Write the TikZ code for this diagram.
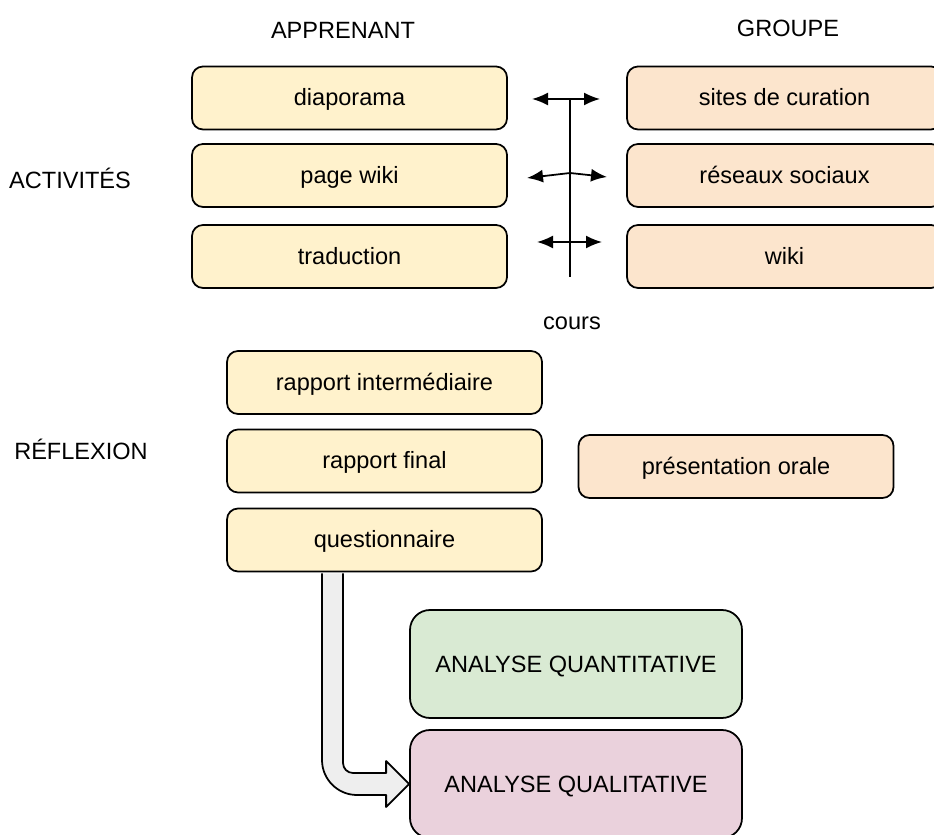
\documentclass[tikz,border=0pt]{standalone}
\usepackage{fontspec}
\setmainfont{Liberation Sans}
\usepackage{tikz}
\usetikzlibrary{
	shapes,
	calc,
	arrows.meta}

\definecolor{jaune}{HTML}{FFF2CC}
\definecolor{peche}{HTML}{FCE5CD}
\definecolor{vert}{HTML}{D9EAD3}
\definecolor{rose}{HTML}{EAD1DC}
\definecolor{gris}{HTML}{EEEEEE}

\begin{document}
\begin{tikzpicture}[scale=1,every node/.style={font=\fontsize{13.4}{16}\selectfont}]
		\tikzstyle{boite}=[rectangle,draw,line width=1pt,rounded corners=0.22cm,
							minimum width=6.3cm,minimum height=1.26cm,
							text height=0.34cm,text depth=0.02cm]
		\tikzstyle{analyse}=[rectangle,draw,line width=1pt,rounded corners=0.4cm,
							minimum width=6.64cm,minimum height=2.16cm,
							text height=0.34cm,text depth=0.02cm]
		\tikzstyle{fleche}=[line width=1pt,-{Latex[length=0.32cm,width=0.26cm]}]

		\useasboundingbox (0,0) rectangle (18.68,16.68);
		\clip (0,0) rectangle (18.68,16.68);

		% titres
		\node (apprenant) at (6.86,16.08) {APPRENANT};
		\node (groupe) at (15.76,16.12) {GROUPE};
		\node (activites) at (1.4,13.12) {ACTIVITÉS};
		\node (reflexion) at (1.62,7.7) {RÉFLEXION};

		% activites
		\foreach \name/\y/\txt in {diapo/14.72/diaporama, pagewiki/13.17/page wiki, trad/11.55/traduction}
			\node[boite,fill=jaune] (\name) at (6.99,\y) {\txt};
		\foreach \name/\y/\txt in {curation/14.72/sites de curation, reseaux/13.17/réseaux sociaux, wiki/11.55/wiki}
			\node[boite,fill=peche] (\name) at (15.69,\y) {\txt};

		% cours
		\coordinate (ctop) at (11.4,14.68);
		\coordinate (cbot) at (11.4,11.14);
		\draw [line width=1pt] (ctop) -- (cbot);
		\node (cours) at (11.44,10.22) {cours};

		\coordinate (g1) at (10.64,14.70);
		\coordinate (d1) at (12.0,14.70);
		\coordinate (m2) at (11.4,13.22);
		\coordinate (g2) at (10.54,13.12);
		\coordinate (d2) at (12.14,13.14);
		\coordinate (m3) at (11.4,11.84);
		\coordinate (g3) at (10.74,11.84);
		\coordinate (d3) at (12.04,11.84);

		\draw [fleche] ($(ctop)+(0,0.02)$) -- (g1);
		\draw [fleche] ($(ctop)+(0,0.02)$) -- (d1);
		\foreach \i in {2,3} {
			\draw [fleche] (m\i) -- (g\i);
			\draw [fleche] (m\i) -- (d\i);
		}

		% reflexion
		\foreach \name/\y/\txt in {interm/9.03/rapport intermédiaire, final/7.46/rapport final, quest/5.88/questionnaire}
			\node[boite,fill=jaune] (\name) at (7.69,\y) {\txt};
		\node[boite,fill=peche] (orale) at (14.72,7.35) {présentation orale};

		% analyses
		\node[analyse,fill=vert] (quanti) at (11.52,3.4) {ANALYSE QUANTITATIVE};
		\node[analyse,fill=rose] (quali) at (11.52,1.0) {ANALYSE QUALITATIVE};

		% grosse fleche
		\coordinate (qa) at ($(quest.south)+(-1.25,-0.02)$);
		\filldraw [fill=gris,line width=1pt,line join=round]
			(qa) -- ($(quali.west -| qa)+(0,0.48)$)
			arc [start angle=180,end angle=270,radius=0.7]
			-- ($(quali.west)+(-0.46,-0.22)$) -- ++(0,-0.24) -- (quali.west)
			-- ($(quali.west)+(-0.46,0.46)$) -- ++(0,-0.24)
			-- ($(quali.west -| qa)+(0.62,0.22)$)
			arc [start angle=270,end angle=180,radius=0.2]
			-- ($(qa)+(0.42,0)$);

	\end{tikzpicture}
\end{document}
